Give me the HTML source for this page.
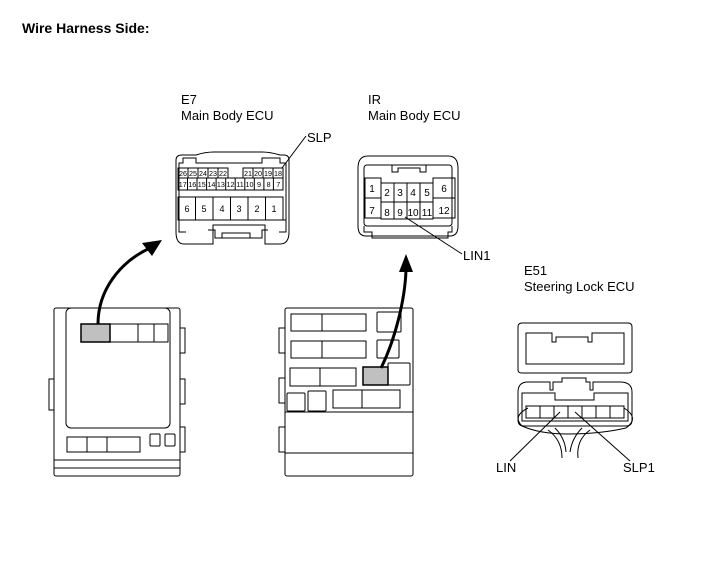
<!DOCTYPE html>
<html><head><meta charset="utf-8"><style>
html,body{margin:0;padding:0;background:#fff;}
svg{display:block;}
text{font-family:"Liberation Sans",Arial,sans-serif;fill:#000;}
</style></head><body>
<svg width="713" height="581" viewBox="0 0 713 581" xmlns="http://www.w3.org/2000/svg">
<text x="22" y="33" font-size="14" font-weight="bold">Wire Harness Side:</text>

<text x="181" y="104" font-size="13">E7</text>
<text x="181" y="120" font-size="13">Main Body ECU</text>
<text x="307" y="142" font-size="13">SLP</text>
<line x1="306" y1="136" x2="282" y2="168" stroke="#000" stroke-width="1"/>

<g fill="none" stroke="#000" stroke-width="1">
<path d="M176,160 Q176,155 182,155 L196,155 Q205,152 214,152 L262,152 Q270,152 280,155 L284,155 Q289,155 289,160 L289,232 Q289,244 280,244 L265,244 L265,225 L213,225 L213,244 L184,244 Q176,244 176,232 Z"/>
<path d="M179,163 L183,163 L183,158 L196,158 L196,163 L262,163 L262,158 L280,158 L280,163 L286,163 L286,220 L179,220 Z"/>
<rect x="178" y="168" width="50" height="10"/>
<line x1="188" y1="168" x2="188" y2="178"/><line x1="198" y1="168" x2="198" y2="178"/><line x1="208" y1="168" x2="208" y2="178"/><line x1="218" y1="168" x2="218" y2="178"/>
<rect x="243" y="168" width="40" height="10"/>
<line x1="253" y1="168" x2="253" y2="178"/><line x1="263" y1="168" x2="263" y2="178"/><line x1="273" y1="168" x2="273" y2="178"/>
<rect x="178" y="178" width="105" height="12"/>
<rect x="178" y="197" width="105" height="23"/>
<line x1="195.5" y1="197" x2="195.5" y2="220"/><line x1="213" y1="197" x2="213" y2="220"/><line x1="230.5" y1="197" x2="230.5" y2="220"/><line x1="248" y1="197" x2="248" y2="220"/><line x1="265.5" y1="197" x2="265.5" y2="220"/>
<path d="M179,220 L179,232 L186,232 M286,220 L286,232 L279,232"/>
<path d="M208,230 L215,230 L215,238 L262,238 L262,230 L268,230 M222,238 L222,233 L250,233 L250,238"/>
<line x1="187.5" y1="178" x2="187.5" y2="190"/><line x1="197" y1="178" x2="197" y2="190"/><line x1="206.6" y1="178" x2="206.6" y2="190"/><line x1="216.1" y1="178" x2="216.1" y2="190"/><line x1="225.7" y1="178" x2="225.7" y2="190"/><line x1="235.2" y1="178" x2="235.2" y2="190"/><line x1="244.8" y1="178" x2="244.8" y2="190"/><line x1="254.3" y1="178" x2="254.3" y2="190"/><line x1="263.9" y1="178" x2="263.9" y2="190"/><line x1="273.4" y1="178" x2="273.4" y2="190"/>
</g>
<g font-size="7.2" text-anchor="middle">
<text x="183" y="176">26</text><text x="193" y="176">25</text><text x="203" y="176">24</text><text x="213" y="176">23</text><text x="223" y="176">22</text>
<text x="248" y="176">21</text><text x="258" y="176">20</text><text x="268" y="176">19</text><text x="278" y="176">18</text>
<text x="182.8" y="187">17</text><text x="192.3" y="187">16</text><text x="201.8" y="187">15</text><text x="211.4" y="187">14</text><text x="220.9" y="187">13</text><text x="230.5" y="187">12</text><text x="240" y="187">11</text><text x="249.5" y="187">10</text><text x="259" y="187">9</text><text x="268.6" y="187">8</text><text x="278.2" y="187">7</text>
</g>
<g font-size="9" text-anchor="middle">
<text x="187" y="212">6</text><text x="204" y="212">5</text><text x="222" y="212">4</text><text x="239" y="212">3</text><text x="257" y="212">2</text><text x="274" y="212">1</text>
</g>

<text x="368" y="104" font-size="13">IR</text>
<text x="368" y="120" font-size="13">Main Body ECU</text>
<text x="463" y="260" font-size="13">LIN1</text>
<line x1="405" y1="217" x2="462" y2="254" stroke="#000"/>

<g fill="none" stroke="#000" stroke-width="1">
<path d="M358,168 Q358,156 368,156 L448,156 Q458,156 458,168 L458,226 Q458,236 450,236 L366,236 Q358,236 358,226 Z"/>
<rect x="364" y="165" width="88" height="61" rx="3"/>
<path d="M392,165 L392,172 L398,172 L398,168 L420,168 L420,172 L426,172 L426,165"/>
<rect x="365" y="178" width="16" height="20"/><rect x="365" y="198" width="16" height="20"/>
<rect x="381" y="183" width="52" height="19"/><rect x="381" y="202" width="52" height="17"/>
<line x1="394" y1="183" x2="394" y2="219"/><line x1="407" y1="183" x2="407" y2="219"/><line x1="420" y1="183" x2="420" y2="219"/>
<rect x="433" y="178" width="22" height="20"/><rect x="433" y="198" width="22" height="20"/>
<path d="M364,226 L364,232 L372,232 L372,238 L448,238 L448,232 L452,232 L452,226"/>
</g>
<g font-size="10" text-anchor="middle">
<text x="372" y="192">1</text><text x="387" y="196">2</text><text x="400" y="196">3</text><text x="413" y="196">4</text><text x="427" y="196">5</text><text x="444" y="192">6</text>
<text x="372" y="214">7</text><text x="387" y="216">8</text><text x="400" y="216">9</text><text x="413" y="216">10</text><text x="427" y="216">11</text><text x="444" y="214">12</text>
</g>

<g fill="none" stroke="#000" stroke-width="1">
<rect x="54" y="308" width="126" height="168" rx="2"/>
<rect x="66" y="308" width="104" height="120" rx="5"/>
<line x1="54" y1="460" x2="180" y2="460"/><line x1="54" y1="468" x2="180" y2="468"/>
<rect x="49" y="379" width="5" height="31"/><rect x="180" y="328" width="5" height="25"/><rect x="180" y="379" width="5" height="25"/><rect x="180" y="427" width="5" height="25"/>
<rect x="110" y="324" width="58" height="18"/><line x1="138" y1="324" x2="138" y2="342"/><line x1="154" y1="324" x2="154" y2="342"/>
<path d="M67,437 L140,437 L140,452 L67,452 Z M87,437 L87,452 M107,437 L107,452"/>
<rect x="150" y="434" width="10" height="12" rx="1"/><rect x="165" y="434" width="10" height="12" rx="1"/>
</g>
<rect x="81" y="324" width="29" height="18" fill="#c0c0c0" stroke="#000" stroke-width="1.5"/>

<g fill="none" stroke="#000" stroke-width="1">
<rect x="285" y="308" width="128" height="168" rx="2"/>
<line x1="285" y1="412" x2="413" y2="412"/><line x1="285" y1="453" x2="413" y2="453"/>
<rect x="279" y="328" width="6" height="25"/><rect x="279" y="378" width="6" height="25"/><rect x="279" y="427" width="6" height="25"/>
<path d="M291,314 L366,314 L366,331 L291,331 Z M322,314 L322,331"/>
<path d="M291,341 L366,341 L366,358 L291,358 Z M322,341 L322,358"/>
<path d="M290,368 L356,368 L356,386 L290,386 Z M320,368 L320,386"/>
<path d="M333,390 L400,390 L400,408 L333,408 Z M362,390 L362,408"/>
<rect x="377" y="312" width="24" height="20" rx="1"/><rect x="377" y="340" width="22" height="18" rx="1"/>
<rect x="388" y="363" width="22" height="22" rx="1"/>
<rect x="287" y="393" width="18" height="18" rx="1"/><rect x="308" y="391" width="18" height="20" rx="1"/>
</g>
<rect x="363" y="367" width="25" height="18" fill="#c0c0c0" stroke="#000" stroke-width="1.5"/>

<path d="M98,324 C98,290 120,262 150,248" fill="none" stroke="#000" stroke-width="3"/>
<polygon points="162,240 142,243 152,256" fill="#000"/>
<path d="M381,368 C395,340 405,300 406,270" fill="none" stroke="#000" stroke-width="3"/>
<polygon points="406,254 399,272 413,272" fill="#000"/>

<text x="524" y="275" font-size="13">E51</text>
<text x="524" y="291" font-size="13">Steering Lock ECU</text>
<g fill="none" stroke="#000" stroke-width="1">
<path d="M522,323 L628,323 Q632,323 632,327 L632,370 Q632,373 628,373 L522,373 Q518,373 518,370 L518,327 Q518,323 522,323 Z"/>
<path d="M526,333 L552,333 L552,342 L556,342 L556,337 L588,337 L588,342 L592,342 L592,333 L624,333 L624,364 L526,364 Z"/>
<path d="M518,392 Q518,382 528,382 L550,382 L550,390 L553,390 L553,382 L562,382 L562,378 L586,378 L586,382 L590,382 L590,390 L593,390 L593,382 L620,382 Q632,382 632,392 L632,420 Q632,426 626,426 L524,426 Q518,426 518,420 Z"/>
<path d="M522,393 L555,393 L555,400 L594,400 L594,393 L628,393 L628,421 L522,421 Z"/>
<rect x="526" y="406" width="98" height="12"/>
<line x1="540" y1="406" x2="540" y2="418"/><line x1="554" y1="406" x2="554" y2="418"/><line x1="568" y1="406" x2="568" y2="418"/><line x1="582" y1="406" x2="582" y2="418"/><line x1="596" y1="406" x2="596" y2="418"/><line x1="610" y1="406" x2="610" y2="418"/>
<path d="M528,408 Q512,416 522,426 Q540,434 568,434 Q600,434 626,428 Q640,418 624,408"/>
<path d="M555,428 Q565,438 566,452 M582,428 Q572,438 570,452 M548,430 Q562,440 562,458 M590,430 Q576,440 578,458"/>
<line x1="510" y1="461" x2="560" y2="412"/>
<line x1="630" y1="461" x2="575" y2="412"/>
</g>
<text x="496" y="472" font-size="13">LIN</text>
<text x="623" y="472" font-size="13">SLP1</text>
</svg>
</body></html>
